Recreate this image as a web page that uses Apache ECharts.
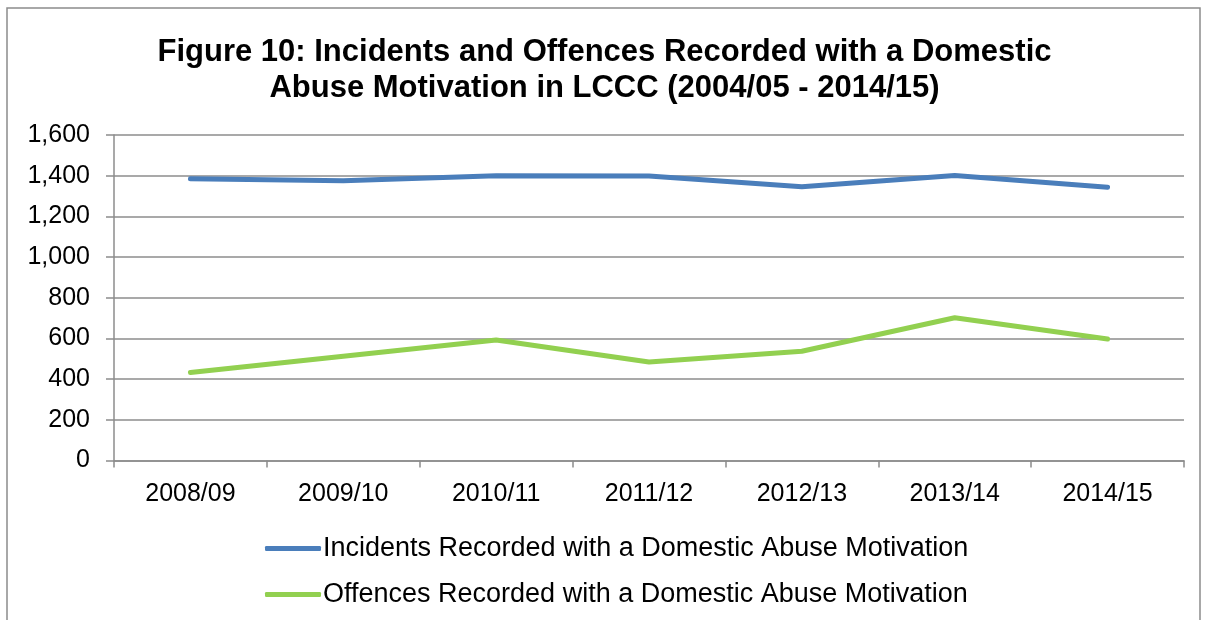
<!DOCTYPE html>
<html>
<head>
<meta charset="utf-8">
<script src="https://cdn.jsdelivr.net/npm/echarts@6/dist/echarts.min.js"></script>
<style>
  html, body { margin: 0; padding: 0; background: #fff; }
  #chart { width: 1209px; height: 620px; }
</style>
</head>
<body>
<div id="chart"></div>
<script>
// Financial years on the category axis
const years = ['2008/09', '2009/10', '2010/11', '2011/12', '2012/13', '2013/14', '2014/15'];

// Recorded counts per year
const incidents = [1385, 1375, 1400, 1398, 1346, 1401, 1343];
const offences = [433, 512, 592, 484, 537, 702, 597];

// Series names shown in the legend
const incidentsName = 'Incidents Recorded with a Domestic Abuse Motivation';
const offencesName = 'Offences Recorded with a Domestic Abuse Motivation';

const titleLines = [
  'Figure 10: Incidents and Offences Recorded with a Domestic',
  'Abuse Motivation in LCCC (2004/05 - 2014/15)'
];

const FONT = '"Liberation Sans", Arial, sans-serif';
const GRID_COLOR = '#8c8c8c';

const chart = echarts.init(document.getElementById('chart'), null, { renderer: 'canvas' });

chart.setOption({
  animation: false,
  backgroundColor: '#ffffff',
  title: {
    text: titleLines.join('\n'),
    left: 'center',
    top: 29,
    textStyle: {
      fontFamily: FONT,
      fontWeight: 'bold',
      fontSize: 31,
      lineHeight: 36,
      color: '#000'
    }
  },
  graphic: [{
    type: 'rect',
    shape: { x: 7, y: 8, width: 1193, height: 640 },
    style: { fill: 'none', stroke: GRID_COLOR, lineWidth: 1.5 },
    silent: true,
    z: -1
  }],
  grid: {
    left: 114,
    right: 25,
    top: 135,
    bottom: 159.5,
    containLabel: false
  },
  legend: {
    orient: 'vertical',
    left: 260,
    top: 530,
    itemGap: 19,
    itemWidth: 56,
    itemHeight: 5,
    icon: 'roundRect',
    textStyle: {
      fontFamily: FONT,
      fontSize: 27,
      color: '#000',
      padding: [0, 0, 0, -3]
    },
    data: [incidentsName, offencesName]
  },
  xAxis: {
    type: 'category',
    data: years,
    boundaryGap: true,
    axisLine: { lineStyle: { color: GRID_COLOR, width: 1.5 } },
    axisTick: { show: true, length: 7, lineStyle: { color: GRID_COLOR, width: 1.5 } },
    axisLabel: {
      fontFamily: FONT,
      fontSize: 25,
      color: '#000',
      margin: 21
    }
  },
  yAxis: {
    type: 'value',
    min: 0,
    max: 1600,
    interval: 200,
    axisLine: { show: true, lineStyle: { color: GRID_COLOR, width: 1.5 } },
    axisTick: { show: true, length: 8, lineStyle: { color: GRID_COLOR, width: 1.5 } },
    splitLine: { lineStyle: { color: GRID_COLOR, width: 1.5 } },
    axisLabel: {
      fontFamily: FONT,
      fontSize: 25,
      color: '#000',
      margin: 24,
      formatter: v => v.toLocaleString('en-US')
    }
  },
  series: [
    {
      name: incidentsName,
      type: 'line',
      data: incidents,
      showSymbol: false,
      symbol: 'none',
      lineStyle: { color: '#4a7ebb', width: 5, cap: 'round', join: 'round' },
      itemStyle: { color: '#4a7ebb' }
    },
    {
      name: offencesName,
      type: 'line',
      data: offences,
      showSymbol: false,
      symbol: 'none',
      lineStyle: { color: '#92d050', width: 5, cap: 'round', join: 'round' },
      itemStyle: { color: '#92d050' }
    }
  ]
});
</script>
</body>
</html>
